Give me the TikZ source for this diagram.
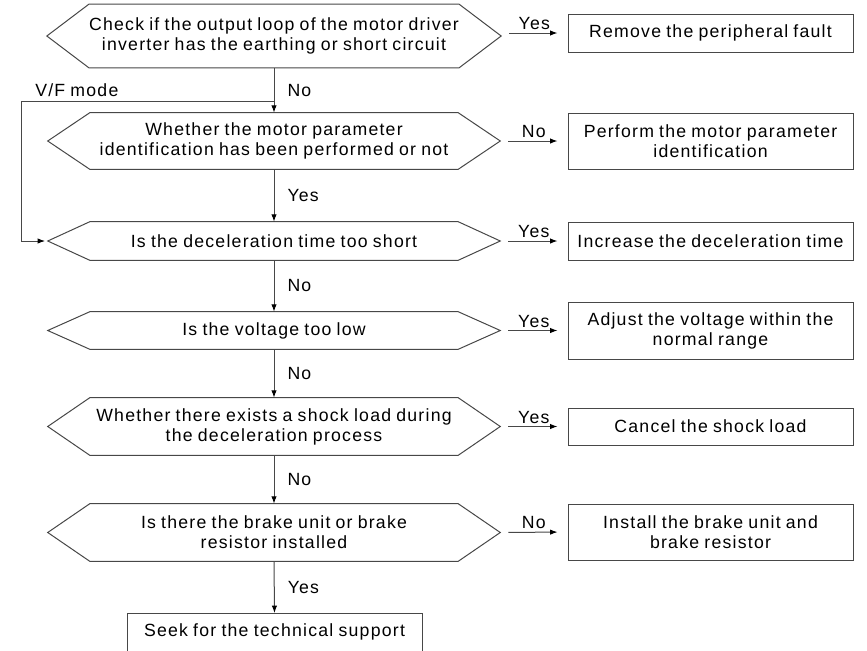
\documentclass[tikz,border=0pt]{standalone}
\usepackage{fontspec}
\setmainfont{Liberation Sans}[LetterSpace=7,WordSpace=0.85]
\usetikzlibrary{arrows.meta}
\tikzset{
  ln/.style={draw=black!72, line width=0.75pt},
  arr/.style={ln, -{Latex[length=5.5pt,width=4pt,color=black]}},
  lbl/.style={font=\fontsize{13.25}{15}\selectfont, inner sep=0pt},
  hexin/.style={lbl, minimum width=276pt, align=center},
  rbox/.style={lbl, ln, minimum width=213.75pt, align=center},
}
\newcommand\hexa[4]{%
  \node[hexin, minimum height=#3*0.75pt] (#1) at (274,#2) {#4};
  \coordinate (#1-l) at ([xshift=-31.5pt]#1.west);
  \coordinate (#1-r) at ([xshift=31.5pt]#1.east);
  \draw[ln] (#1.north west) -- (#1.north east) -- (#1-r) -- (#1.south east)
     -- (#1.south west) -- (#1-l) -- cycle;
}
\begin{document}
\begin{tikzpicture}[x=0.75pt,y=-0.75pt]
\useasboundingbox (0,0) rectangle (867,650);
% decision hexagons
\hexa{h1}{36}{63}{Check if the output loop of the motor driver\\inverter has the earthing or short circuit}
\hexa{h2}{141}{56}{Whether the motor parameter\\identification has been performed or not}
\hexa{h3}{241}{38}{Is the deceleration time too short}
\hexa{h4}{330.5}{37}{Is the voltage too low}
\hexa{h5}{426.5}{57}{Whether there exists a shock load during\\the deceleration process}
\hexa{h6}{532.5}{57}{Is there the brake unit or brake\\resistor installed}
% action boxes
\node[rbox, minimum height=28.5pt] (b1) at (710.5,33) {Remove the peripheral fault};
\node[rbox, minimum height=42pt] (b2) at (710.5,141) {Perform the motor parameter\\identification};
\node[rbox, minimum height=28.5pt] (b3) at (710.5,241) {Increase the deceleration time};
\node[rbox, minimum height=42.75pt] (b4) at (710.5,330.5) {Adjust the voltage within the\\normal range};
\node[rbox, minimum height=27.75pt] (b5) at (710.5,426.5) {Cancel the shock load};
\node[rbox, minimum height=42pt] (b6) at (710.5,532) {Install the brake unit and\\brake resistor};
\node[lbl, ln, minimum width=221.25pt, text height=9.5pt, text depth=22pt, inner ysep=7.75pt, anchor=north] (fin) at (274.5,613) {Seek for the technical support};
% vertical flow
\draw[arr] (h1.south) -- node[lbl, right, xshift=9.75pt] {No} (h2.north);
\draw[arr] (h2.south) -- node[lbl, right, xshift=9.75pt] {Yes} (h3.north);
\draw[arr] (h3.south) -- node[lbl, right, xshift=9.75pt] {No} (h4.north);
\draw[arr] (h4.south) -- node[lbl, right, xshift=9.75pt] {No} (h5.north);
\draw[arr] (h5.south) -- node[lbl, right, xshift=9.75pt] {No} (h6.north);
\draw[arr] (h6.south) -- node[lbl, right, xshift=9.75pt] {Yes} (fin.north);
% horizontal branches
\draw[arr, shorten <=6pt, shorten >=7.5pt] (b1.west -| h1-r) -- node[lbl, above, yshift=2pt] {Yes} (b1.west);
\draw[arr, shorten <=6pt, shorten >=7.5pt] (h2-r) -- node[lbl, above, yshift=2pt] {No} (b2.west);
\draw[arr, shorten <=6pt, shorten >=7.5pt] (h3-r) -- node[lbl, above, yshift=2pt] {Yes} (b3.west);
\draw[arr, shorten <=6pt, shorten >=7.5pt] (h4-r) -- node[lbl, above, yshift=2pt] {Yes} (b4.west);
\draw[arr, shorten <=6pt, shorten >=7.5pt] (h5-r) -- node[lbl, above, yshift=2pt] {Yes} (b5.west);
\draw[arr, shorten <=6pt, shorten >=7.5pt] (h6-r) -- node[lbl, above, yshift=2pt] {No} (b6.west);
% V/F mode bypass
\coordinate (vfj) at (274,101);
\coordinate (vfc) at (21,101);
\draw[arr, shorten >=2pt] (vfj) -- (vfc) |- (h3-l);
\node[lbl, anchor=base west] (vf) at (35,96) {V/F mode};
\end{tikzpicture}
\end{document}
